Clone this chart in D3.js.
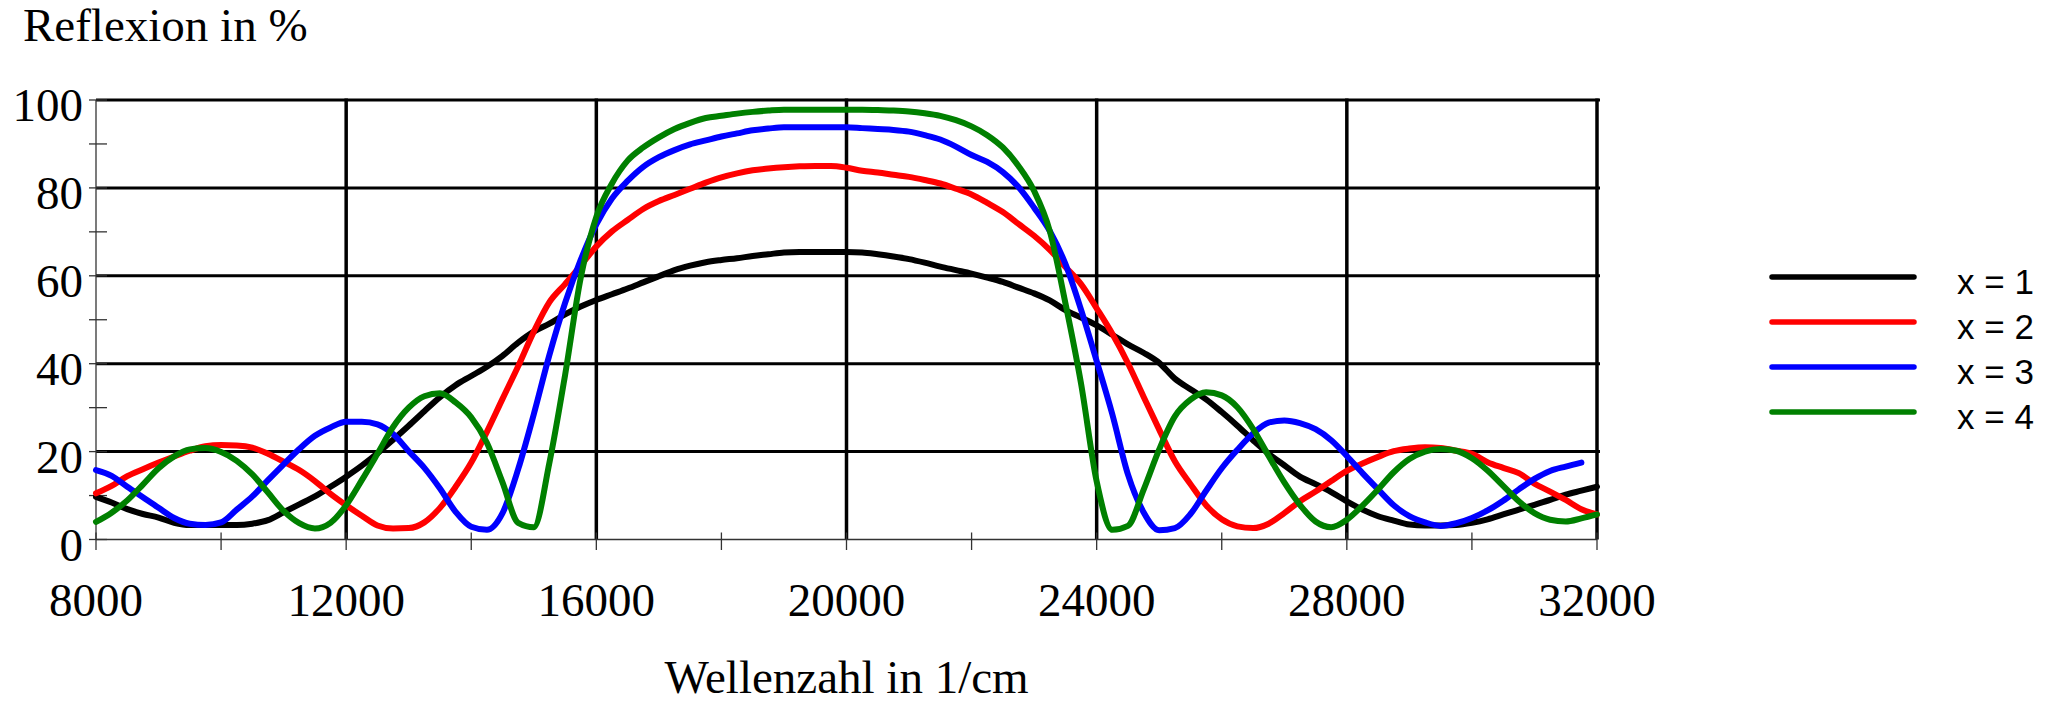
<!DOCTYPE html>
<html>
<head>
<meta charset="utf-8">
<script src="https://cdn.jsdelivr.net/npm/d3@7"></script>
<style>
  html, body { margin: 0; padding: 0; background: #fff; }
  svg { display: block; }
</style>
</head>
<body>
<svg id="chart" width="2060" height="704"></svg>
<script>
// Wavenumber grid (1/cm)
const wavenumbers = [
  8000, 8250, 8500, 8750, 9000, 9250, 9500, 9750, 10000, 10250, 10500, 10750,
  11000, 11250, 11500, 11750, 12000, 12250, 12500, 12750, 13000, 13250, 13500, 13750,
  14000, 14250, 14500, 14750, 15000, 15250, 15500, 15750, 16000, 16250, 16500, 16750,
  17000, 17250, 17500, 17750, 18000, 18250, 18500, 18750, 19000, 19250, 19500, 19750,
  20000, 20250, 20500, 20750, 21000, 21250, 21500, 21750, 22000, 22250, 22500, 22750,
  23000, 23250, 23500, 23750, 24000, 24250, 24500, 24750, 25000, 25250, 25500, 25750,
  26000, 26250, 26500, 26750, 27000, 27250, 27500, 27750, 28000, 28250, 28500, 28750,
  29000, 29250, 29500, 29750, 30000, 30250, 30500, 30750, 31000, 31250, 31500, 31750,
  32000
];

// Reflectance in % for x = 1 layer pair
const reflX1 = [
  9.7, 8.4, 6.9, 5.8, 5.0, 3.8, 3.3, 3.3, 3.3, 3.3, 3.6, 4.4,
  6.2, 8.0, 9.8, 12.0, 14.3, 16.8, 19.6, 22.7, 25.9, 29.2, 32.4, 35.1,
  37.2, 39.3, 41.8, 44.8, 47.3, 49.1, 51.2, 53.0, 54.5, 55.8, 57.1, 58.5,
  59.9, 61.3, 62.3, 63.1, 63.6, 64.0, 64.5, 64.9, 65.3, 65.4, 65.4, 65.4,
  65.4, 65.3, 64.9, 64.4, 63.8, 63.0, 62.1, 61.3, 60.5, 59.6, 58.6, 57.3,
  56.0, 54.4, 52.2, 50.5, 48.7, 46.6, 44.4, 42.5, 40.2, 36.6, 34.2, 31.9,
  29.0, 25.9, 22.6, 19.5, 16.9, 14.3, 12.6, 10.8, 8.7, 6.8, 5.3, 4.3,
  3.4, 3.2, 3.2, 3.3, 3.8, 4.6, 5.7, 6.8, 7.9, 9.0, 10.2, 11.1,
  12.0
];

// x = 2
const reflX2 = [
  10.5, 12.2, 14.4, 16.0, 17.5, 18.9, 20.2, 21.2, 21.5, 21.4, 20.9, 19.5,
  17.7, 15.8, 13.3, 10.4, 7.8, 5.4, 3.2, 2.5, 2.6, 3.9, 7.2, 12.0,
  17.5, 24.5, 32.0, 39.4, 47.3, 54.0, 58.1, 62.3, 66.7, 70.1, 72.7, 75.2,
  77.0, 78.4, 79.8, 81.2, 82.4, 83.3, 84.0, 84.4, 84.7, 84.9, 85.0, 85.0,
  84.6, 83.9, 83.5, 83.0, 82.5, 81.8, 81.0, 79.8, 78.5, 76.6, 74.5, 71.8,
  69.1, 65.9, 62.0, 58.1, 52.6, 46.8, 40.1, 32.5, 25.0, 17.8, 12.6, 7.8,
  4.6, 3.0, 2.6, 3.6, 6.0, 8.7, 10.9, 13.3, 15.6, 17.3, 18.8, 20.1,
  20.7, 21.0, 20.8, 20.2, 19.5, 17.6, 16.3, 15.1, 12.7, 10.9, 9.0, 6.9,
  5.7
];

// x = 3 (computed range ends just short of 32000)
const reflX3 = [
  15.8, 14.5, 12.0, 9.6, 7.2, 4.9, 3.6, 3.3, 3.9, 6.8, 9.8, 13.5,
  17.1, 20.6, 23.6, 25.5, 26.8, 26.8, 26.2, 24.0, 20.1, 16.3, 11.6, 6.3,
  2.9, 2.2, 6.0, 16.0, 28.5, 42.0, 53.8, 63.6, 71.7, 77.6, 81.6, 84.8,
  87.0, 88.6, 89.9, 90.8, 91.7, 92.4, 93.1, 93.5, 93.8, 93.8, 93.8, 93.8,
  93.8, 93.6, 93.4, 93.2, 92.8, 92.0, 91.0, 89.4, 87.5, 85.9, 83.6, 80.2,
  75.5, 70.2, 62.7, 52.3, 40.6, 28.5, 14.8, 6.2, 2.1, 2.6, 5.8, 11.1,
  16.2, 20.4, 24.1, 26.6, 27.1, 26.5, 25.1, 22.6, 19.0, 15.1, 11.4, 7.8,
  5.3, 3.9, 3.1, 3.7, 4.9, 6.6, 8.8, 11.4, 13.8, 15.6, 16.6, 17.5,
  null
];

// x = 4
const reflX4 = [
  4.0, 6.1, 8.9, 12.5, 16.2, 18.9, 20.5, 20.8, 19.9, 17.9, 14.8, 10.7,
  6.5, 3.7, 2.5, 3.8, 7.8, 13.5, 19.5, 25.6, 30.0, 32.6, 33.3, 31.2,
  27.8, 22.0, 13.0, 3.8, 2.8, 17.5, 37.4, 59.5, 73.4, 81.0, 86.2, 89.2,
  91.5, 93.4, 94.8, 95.9, 96.4, 96.9, 97.3, 97.6, 97.8, 97.8, 97.8, 97.8,
  97.8, 97.8, 97.7, 97.6, 97.4, 97.0, 96.4, 95.4, 94.0, 92.0, 89.2, 85.0,
  79.3, 70.2, 53.8, 35.5, 13.2, 2.2, 3.1, 11.3, 20.5, 28.0, 31.8, 33.5,
  32.8, 30.1, 25.2, 19.0, 13.0, 7.9, 4.1, 2.8, 4.5, 7.7, 11.4, 15.3,
  18.3, 20.0, 20.6, 20.2, 18.5, 15.7, 12.2, 8.7, 6.0, 4.5, 4.1, 4.8,
  5.7
];

const seriesNames = ["x = 1", "x = 2", "x = 3", "x = 4"];
const seriesColors = ["#000000", "#ff0000", "#0000ff", "#008000"];
const seriesValues = [reflX1, reflX2, reflX3, reflX4];

const xMajorTicks = [8000, 12000, 16000, 20000, 24000, 28000, 32000];
const xMinorTicks = [8000, 10000, 12000, 14000, 16000, 18000, 20000, 22000, 24000, 26000, 28000, 30000, 32000];
const yMajorTicks = [0, 20, 40, 60, 80, 100];
const yMinorTicks = [0, 10, 20, 30, 40, 50, 60, 70, 80, 90, 100];

const svg = d3.select("#chart");
const serif = "'Liberation Serif', 'Times New Roman', serif";
const sans = "'Liberation Sans', Arial, sans-serif";

const x = d3.scaleLinear().domain([8000, 32000]).range([96, 1597]);
const y = d3.scaleLinear().domain([0, 100]).range([539.5, 100]);

// Gridlines
const grid = svg.append("g");
grid.selectAll("line.h")
  .data(yMajorTicks.filter(v => v > 0))
  .join("line")
  .attr("x1", x(8000)).attr("x2", x(32000) + 3)
  .attr("y1", d => y(d)).attr("y2", d => y(d))
  .attr("stroke", "#000").attr("stroke-width", 3);
grid.selectAll("line.v")
  .data(xMajorTicks.filter(v => v > 8000))
  .join("line")
  .attr("x1", d => x(d)).attr("x2", d => x(d))
  .attr("y1", y(100) - 1.5).attr("y2", y(0))
  .attr("stroke", "#000").attr("stroke-width", 3.5);

// Axis lines and ticks
const axes = svg.append("g").attr("stroke", "#333").attr("stroke-width", 1.3);
axes.append("line")
  .attr("x1", x(8000)).attr("x2", x(8000))
  .attr("y1", y(100)).attr("y2", y(0));
axes.append("line")
  .attr("x1", x(8000)).attr("x2", x(32000))
  .attr("y1", y(0)).attr("y2", y(0));
axes.selectAll("line.yt")
  .data(yMinorTicks)
  .join("line")
  .attr("x1", x(8000) - 7).attr("x2", x(8000) + 11)
  .attr("y1", d => y(d)).attr("y2", d => y(d));
axes.selectAll("line.xt")
  .data(xMinorTicks)
  .join("line")
  .attr("x1", d => x(d)).attr("x2", d => x(d))
  .attr("y1", y(0) - 7).attr("y2", y(0) + 10.5);

// Tick labels
svg.append("g").selectAll("text")
  .data(yMajorTicks)
  .join("text")
  .attr("x", 83)
  .attr("y", d => y(d) + 21)
  .attr("text-anchor", "end")
  .attr("font-family", serif).attr("font-size", 47)
  .text(d => d);
svg.append("g").selectAll("text")
  .data(xMajorTicks)
  .join("text")
  .attr("x", d => x(d))
  .attr("y", 616)
  .attr("text-anchor", "middle")
  .attr("font-family", serif).attr("font-size", 47)
  .text(d => d);

// Axis titles
svg.append("text")
  .attr("x", 23).attr("y", 41)
  .attr("font-family", serif).attr("font-size", 47)
  .text("Reflexion in %");
svg.append("text")
  .attr("x", x(20000)).attr("y", 693)
  .attr("text-anchor", "middle")
  .attr("font-family", serif).attr("font-size", 47)
  .text("Wellenzahl in 1/cm");

// Reflectance curves
const line = d3.line()
  .defined(d => d[1] !== null)
  .x(d => x(d[0]))
  .y(d => y(d[1]))
  .curve(d3.curveMonotoneX);

svg.append("g").selectAll("path")
  .data(seriesValues.map(vals => wavenumbers.map((w, i) => [w, vals[i]])))
  .join("path")
  .attr("d", line)
  .attr("fill", "none")
  .attr("stroke", (d, i) => seriesColors[i])
  .attr("stroke-width", 6)
  .attr("stroke-linejoin", "round")
  .attr("stroke-linecap", "round");

// Legend
const legend = svg.append("g");
const legendRow = d3.scaleLinear().domain([0, 3]).range([277, 412]);
const rows = legend.selectAll("g")
  .data(seriesNames)
  .join("g")
  .attr("transform", (d, i) => `translate(0,${legendRow(i)})`);
rows.append("line")
  .attr("x1", 1772).attr("x2", 1914)
  .attr("y1", 0).attr("y2", 0)
  .attr("stroke", (d, i) => seriesColors[i])
  .attr("stroke-width", 5.5)
  .attr("stroke-linecap", "round");
rows.append("text")
  .attr("x", 1957).attr("y", 17)
  .attr("font-family", sans).attr("font-size", 35)
  .text(d => d);
</script>
</body>
</html>
